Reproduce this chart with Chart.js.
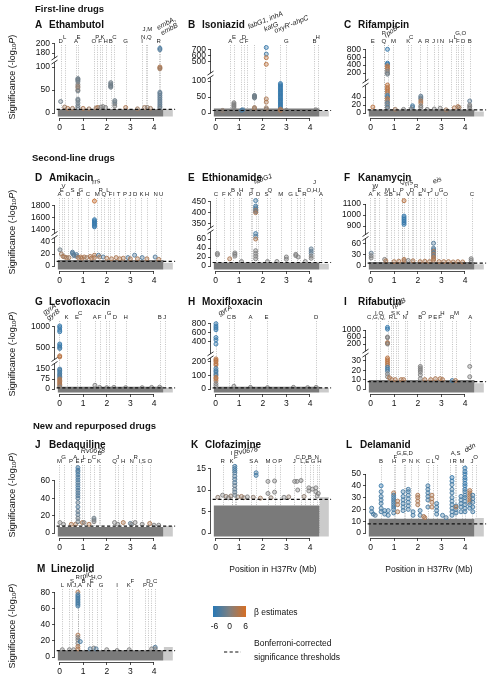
<!DOCTYPE html>
<html>
<head>
<meta charset="utf-8">
<script src="https://cdn.jsdelivr.net/npm/chart.js@4.4.0/dist/chart.umd.min.js"></script>
<style>
  html, body { margin: 0; padding: 0; background: #fff; }
  body { width: 494px; height: 680px; position: relative; overflow: hidden; font-family: 'Liberation Sans', Arial, sans-serif; color: #111; }
  canvas { position: absolute; }
  .t { position: absolute; white-space: nowrap; line-height: 1; }
  .sec { font-weight: bold; font-size: 9.5px; }
  .pt { font-weight: bold; font-size: 10px; }
  .sm { font-size: 8.5px; }
  .yt { font-size: 9px; }
  sub { font-size: 6px; vertical-align: -1px; }
</style>
</head>
<body>
<script>
/* Manhattan plots: significance of genome positions per drug */

// ---- data ----
const thresholdLog10P = 7.8;
const genomeEnd = 4.41;   // Mb, H37Rv chromosome
const extraEnd = 4.8;     // lighter block after the chromosome
const xTicks = [0, 1, 2, 3, 4];

// band of non-significant variants, top in -log10P (dark / light part), panels A..M
const bandDark  = [8, 13.7, 8.5, 10, 7.8, 11, 17, 17, 9.6, 7, 6.4, 12, 8.3];
const bandLight = [8, 6, 4, 5.5, 5, 5, 10, 10, 6, 7.7, 8.4, 12.7, 12.3];

// hits: [position Mb, -log10P, beta]
const ethambutolTicks = [0, 50, 100, 180, 200];
const ethambutolHits = [[0.05,25,-1],[0.22,13,2],[0.35,10,3],[0.55,10,2],
  [0.78,75,-1],[0.78,73,-1],[0.78,71,-1],[0.78,68,-1],[0.78,62,0],[0.78,58,1],[0.78,55,1],[0.78,50,1],[0.78,48,-1],[0.78,30,-1],[0.78,27,-1],[0.78,22,-1],[0.78,16,-1],[0.78,12,-1],
  [1.0,10,3],[1.25,9,2],[1.55,11,2],[1.62,12,3],[1.75,13,0],[1.84,14,0],[1.95,12,0],
  [2.17,66,-1],[2.17,63,-1],[2.17,60,-1],[2.17,58,-1],[2.17,56,-1],
  [2.34,27,-1],[2.34,24,-1],[2.34,20,-1],[2.34,15,0],
  [2.8,12,3],[3.3,9,2],[3.6,12,2],[3.72,12,1],[3.85,10,2],
  [4.25,190,-4],[4.25,187,-3],[4.25,100,3],[4.25,98,3],[4.25,96,2],[4.25,45,-2],[4.25,42,-2],[4.25,38,-2],[4.25,34,-2],[4.25,30,-2],[4.25,26,-2],[4.25,22,-2],[4.25,18,-2],[4.25,14,-2],[4.25,11,-1]];
const ethambutolGenes = [[0.05,'D'],[0.22,'L'],[0.7,'A'],[0.8,'E'],[1.45,'O'],[1.6,'P'],[1.72,'F'],[1.82,'K'],[1.95,'H'],[2.17,'B'],[2.32,'C'],[2.8,'G'],[3.5,'I'],[3.68,'N,Q'],[3.72,'J,M'],[4.2,'R']];
const ethambutolNames = [[4.27,'embA,\nembB']];

const isoniazidTicks = [0, 50, 100, 500, 600, 700];
const isoniazidHits = [[0.3,8,1],[0.78,32,0],[0.78,28,0],[0.78,24,0],[0.78,20,0],[0.78,15,0],[1.1,8,-3],[1.15,10,-4],
  [1.65,55,-1],[1.65,53,-1],[1.65,51,-1],[1.65,49,-1],[1.65,47,-1],[1.65,17,2],[1.65,14,2],
  [2.15,730,-5],[2.15,620,-4],[2.15,560,4],[2.15,450,4],[2.15,44,3],[2.15,34,3],[2.15,16,2],[2.15,12,1],
  [2.75,92,-5],[2.75,88,-5],[2.75,84,-5],[2.75,80,-5],[2.75,76,-5],[2.75,72,-5],[2.75,68,-5],[2.75,64,-5],[2.75,60,-5],[2.75,56,-5],[2.75,52,-5],[2.75,48,-5],[2.75,44,-5],[2.75,40,-5],[2.75,36,-5],[2.75,32,-5],[2.75,28,-5],[2.75,24,-5],[2.75,20,-5],[2.75,16,-5],[2.75,12,3],[2.75,8,3],
  [3.0,8,0],[4.25,10,0]];
const isoniazidGenes = [[0.62,'A'],[0.78,'E'],[1.1,'C'],[1.2,'D'],[1.32,'F'],[3.0,'G'],[4.19,'B'],[4.32,'H']];
const isoniazidNames = [[1.65,'fabG1, inhA'],[2.1,'katG'],[2.72,"oxyR'-ahpC"]];

const rifampicinTicks = [0, 20, 40, 200, 400, 600, 800];
const rifampicinHits = [[0.1,15,4],
  [0.72,800,-5],[0.72,450,-5],[0.72,420,-5],[0.72,380,4],[0.72,340,4],[0.72,300,3],[0.72,250,0],[0.72,200,0],[0.72,170,-1],
  [0.72,70,4],[0.72,64,4],[0.72,60,4],[0.72,55,4],[0.72,50,3],[0.72,44,-4],[0.72,40,-4],[0.72,36,4],[0.72,32,3],[0.72,28,0],[0.72,24,-3],[0.72,20,0],[0.72,15,-3],[0.72,12,0],
  [1.05,9,2],[1.4,9,0],[1.78,18,-4],[1.78,14,-3],[1.72,10,0],
  [2.13,42,-2],[2.13,38,-2],[2.13,35,-1],[2.13,30,3],[2.13,25,3],[2.13,18,0],[2.13,14,0],
  [2.4,9,0],[2.7,10,0],[2.95,12,0],[3.2,8,2],[3.55,13,3],[3.7,16,3],[3.75,14,2],
  [4.2,30,-2],[4.2,20,0],[4.2,16,0],[4.2,12,0]];
const rifampicinGenes = [[0.1,'E'],[0.56,'Q'],[0.56,'P'],[0.97,'M'],[1.6,'K'],[1.72,'C'],[2.1,'A'],[2.4,'R'],[2.67,'J'],[2.85,'I'],[3.02,'N'],[3.42,'H'],[3.6,'L'],[3.7,'F'],[3.82,'G,O'],[3.92,'D'],[4.2,'B']];
const rifampicinNames = [[0.76,'rpoB']];

const amikacinTicks = [0, 20, 40, 1400, 1600, 1800];
const amikacinHits = [[0.02,27,-1],[0.08,20,2],[0.15,16,3],[0.22,15,2],[0.3,14,3],[0.4,14,2],
  [0.55,23,-3],[0.55,21,-3],[0.6,19,-3],[0.62,17,-2],[0.72,19,-3],[0.72,16,-2],[0.8,14,3],[0.9,15,3],[0.95,13,3],[1.05,15,3],[1.15,14,2],[1.3,16,3],[1.35,13,3],
  [1.48,1870,5],[1.48,1560,-5],[1.48,1540,-5],[1.48,1520,-5],[1.48,1500,-5],[1.48,1480,-5],[1.48,1460,-5],[1.48,1440,-5],[1.48,18,3],[1.48,14,3],
  [1.65,18,-3],[1.7,15,3],[1.85,15,-3],[2.0,13,3],[2.2,12,3],[2.4,14,3],[2.55,12,3],[2.7,13,3],[2.9,14,-3],[3.0,12,3],
  [3.18,18,-3],[3.3,12,3],[3.5,14,-3],[3.7,12,3],[4.05,15,-3],[4.2,11,3]];
const amikacinGenes = [[0.0,'A'],[0.1,'E'],[0.17,'V'],[0.35,'O'],[0.55,'S'],[0.8,'B'],[0.9,'G'],[1.2,'C'],[1.6,'M'],[1.74,'R'],[1.88,'Q'],[2.05,'L'],[2.15,'F'],[2.3,'I'],[2.5,'T'],[2.77,'P'],[2.98,'J'],[3.2,'D'],[3.47,'K'],[3.7,'H'],[4.07,'N'],[4.3,'U']];
const amikacinNames = [[1.47,'rrs']];

const ethionamideTicks = [0, 20, 40, 60, 350, 400, 450];
const ethionamideHits = [[0.08,28,0],[0.08,25,0],[0.6,16,3],[0.82,29,0],[0.82,26,0],[0.82,22,0],[1.1,10,0],
  [1.7,455,-4],[1.7,430,-4],[1.7,422,-3],[1.7,415,-3],[1.7,410,3],[1.7,405,-3],[1.7,400,3],[1.7,72,-4],[1.7,66,-3],[1.7,60,3],[1.7,34,0],[1.7,28,0],[1.7,22,0],[1.7,16,0],
  [2.2,10,0],[2.6,10,0],[3.0,20,0],[3.0,15,0],[3.4,26,0],[3.4,23,0],[3.5,20,0],[3.8,10,0],
  [4.05,38,-2],[4.05,33,-2],[4.05,28,-2],[4.05,22,0],[4.05,17,0]];
const ethionamideGenes = [[0.02,'C'],[0.35,'F'],[0.6,'K'],[0.74,'B'],[0.99,'N'],[1.09,'H'],[1.5,'P'],[1.55,'T'],[1.81,'D'],[2.16,'S'],[2.3,'Q'],[2.76,'M'],[3.18,'G'],[3.45,'L'],[3.56,'E'],[3.76,'R'],[4.15,'O,H,I'],[4.19,'J'],[4.47,'A']];
const ethionamideNames = [[1.72,'fabG1']];

const kanamycinTicks = [0, 30, 60, 900, 1000, 1100];
const kanamycinHits = [[0.03,35,-2],[0.03,28,0],[0.03,22,0],[0.6,18,0],[0.65,14,3],[1.0,12,3],[1.2,13,3],
  [1.42,1130,4],[1.42,990,-5],[1.42,975,-5],[1.42,960,-5],[1.42,945,-5],[1.42,930,-5],[1.42,915,-5],[1.42,18,3],[1.42,14,3],
  [1.6,15,0],[1.8,14,3],[2.1,12,3],[2.3,13,3],[2.5,12,3],
  [2.67,62,-3],[2.67,48,-3],[2.67,44,-3],[2.67,40,3],[2.67,36,-3],[2.67,32,3],[2.67,28,-2],[2.67,24,3],[2.67,20,3],[2.67,16,3],
  [2.9,12,3],[3.1,12,3],[3.3,12,3],[3.5,11,3],[3.7,12,3],[3.9,11,3],[4.26,20,0],[4.26,15,0]];
const kanamycinGenes = [[0.0,'A'],[0.15,'F'],[0.2,'W'],[0.35,'K'],[0.66,'S'],[0.72,'M'],[0.86,'B'],[1.0,'L'],[1.18,'H'],[1.32,'P'],[1.35,'Q'],[1.6,'V'],[1.75,'D'],[1.8,'I'],[1.93,'R'],[2.11,'E'],[2.25,'N'],[2.46,'T'],[2.57,'J'],[2.8,'U'],[2.99,'G'],[3.18,'O'],[4.29,'C']];
const kanamycinNames = [[1.42,'rrs'],[2.7,'eis']];

const levofloxacinTicks = [0, 75, 150, 500, 1000];
const levofloxacinHits = [[0.01,1020,-5],[0.01,980,-5],[0.01,920,-5],[0.01,880,-5],[0.01,580,-5],[0.01,540,-5],[0.01,500,-5],[0.01,470,-4],[0.01,290,4],[0.01,265,4],
  [0.01,150,-4],[0.01,140,-4],[0.01,128,-4],[0.01,115,-4],[0.01,105,-4],[0.01,95,-3],[0.01,85,-3],[0.01,75,3],[0.01,65,3],[0.01,55,3],[0.01,45,3],[0.01,35,3],[0.01,25,3],[0.01,15,0],
  [1.5,28,0],[1.7,12,0],[2.0,10,0],[2.3,12,0],[2.8,10,0],[3.5,10,0],[3.9,12,0],[4.24,14,0]];
const levofloxacinGenes = [[0.3,'K'],[0.74,'E'],[0.88,'C'],[1.49,'A'],[1.7,'F'],[1.95,'I'],[2.1,'G'],[2.35,'D'],[2.8,'H'],[4.24,'B'],[4.45,'J']];
const levofloxacinNames = [[0.0,'gyrA\ngyrB']];

const moxifloxacinTicks = [0, 100, 200, 400, 600, 800];
const moxifloxacinHits = [[0.02,790,-5],[0.02,740,-5],[0.02,700,-5],[0.02,660,-5],[0.02,490,-5],[0.02,440,-5],[0.02,350,-5],
  [0.02,220,4],[0.02,210,4],[0.02,200,4],[0.02,185,4],[0.02,175,4],[0.02,150,-4],[0.02,135,-4],[0.02,125,-4],[0.02,110,-4],[0.02,100,-3],[0.02,85,4],[0.02,75,4],[0.02,60,3],[0.02,40,0],[0.02,25,0],
  [0.78,20,0],[1.48,12,0],[2.2,10,0],[3.3,12,0],[3.9,10,0],[4.26,12,0]];
const moxifloxacinGenes = [[0.57,'C'],[0.78,'B'],[1.48,'A'],[2.16,'E'],[4.26,'D']];
const moxifloxacinNames = [[0.02,'gyrA']];

const rifabutinTicks = [0, 10, 20, 30, 200, 600, 1000];
const rifabutinHits = [[0.72,1150,-5],[0.72,1050,-5],[0.72,600,0],[0.72,560,0],[0.72,280,3],[0.72,240,3],[0.72,200,0],
  [0.72,33,4],[0.72,31,4],[0.72,29,4],[0.72,27,4],[0.72,25,3],[0.72,23,-4],[0.72,21,-4],[0.72,19,-3],[0.72,16,0],[0.72,13,0],
  [0.8,12,3],[0.9,10,3],[1.05,10,3],[1.3,10,3],[1.4,10,3],
  [2.11,24,0],[2.11,22,0],[2.11,20,0],[2.11,18,0],[2.11,15,0],[2.11,11,0],
  [2.3,10,3],[2.55,10,3],[2.75,11,3],[2.95,11,3],[3.05,10,3],[3.46,9,-4],[3.6,9,3],[4.2,24,0],[4.2,13,0]];
const rifabutinGenes = [[0.25,'C,G,Q,'],[0.4,'I,O,'],[0.86,'R'],[0.95,'S'],[1.07,'L'],[1.18,'K'],[1.45,'N'],[1.55,'J'],[2.11,'B'],[2.25,'O'],[2.53,'P'],[2.74,'E'],[2.95,'F'],[3.04,'H'],[3.46,'R'],[3.64,'M'],[4.22,'A']];
const rifabutinNames = [[0.74,'rpoB']];

const bedaquilineTicks = [0, 20, 40, 60];
const bedaquilineHits = [[0.02,12,0],[0.17,10,0],[0.5,10,3],[0.68,10,3],
  [0.78,75,-4],[0.78,72,-4],[0.78,70,-3],[0.78,67,-4],[0.78,64,-3],[0.78,61,-4],[0.78,58,-3],[0.78,55,-3],[0.78,52,-4],[0.78,49,-3],[0.78,46,-3],[0.78,43,-3],[0.78,40,-3],[0.78,35,-2],[0.78,30,-3],[0.78,25,-2],[0.78,21,-2],[0.78,17,-1],[0.78,13,-1],
  [0.97,12,3],[1.04,12,0],[1.25,10,3],[1.46,17,-1],[1.46,15,-1],[1.46,13,0],
  [2.33,12,0],[2.47,10,0],[2.7,12,3],[3.0,11,-2],[3.06,10,0],[3.2,12,0],[3.5,10,0],[3.82,11,3],[4.0,9,0],[4.2,9,0]];
const bedaquilineGenes = [[0.0,'M'],[0.17,'G'],[0.49,'P'],[0.7,'A,'],[0.76,'E'],[0.97,'F'],[1.04,'L'],[1.28,'D'],[1.46,'C'],[1.67,'K'],[1.7,'B'],[2.33,'Q'],[2.47,'J'],[2.7,'H'],[3.06,'N'],[3.22,'R'],[3.5,'I,S'],[3.82,'O']];
const bedaquilineNames = [[0.78,'Rv0678']];

const clofazimineTicks = [0, 5, 10, 15];
const clofazimineHits = [[0.1,8.3,1],[0.3,8.8,0],[0.45,8.5,1],[0.55,8.2,0],[0.65,8.6,1],[0.95,8.4,1],[1.1,8.5,2],[1.2,8.2,1],[1.6,8.3,1],[1.9,8.1,2],[2.35,8.2,1],[2.9,8.3,0],[3.1,8.4,1],[3.75,8.5,1],[4.3,8.6,0],
  [0.82,15.5,-4],[0.82,15,-4],[0.82,14.5,-4],[0.82,14,-3],[0.82,13.2,-3],[0.82,12.5,-3],[0.82,11.7,-3],[0.82,11,-2],[0.82,10.2,-2],[0.82,9.5,-2],[0.82,8.8,-1],
  [1.35,8.4,0],[1.72,14,-4],[1.72,13.4,-4],[2.22,12,0],[2.22,9.2,0],[2.5,12.1,0],[2.5,9.5,0],
  [3.35,12,0],[3.45,12,0],[3.62,12.2,0],[3.48,10,0],[3.95,10.5,0],[3.95,9.8,0],[4.1,10.2,0],[4.25,10.5,0],[4.25,9.6,0],[4.35,9.2,0]];
const clofazimineGenes = [[0.3,'R'],[0.68,'K'],[0.68,'I'],[0.86,'F'],[1.51,'S'],[1.72,'A'],[2.22,'M'],[2.5,'O'],[2.74,'P'],[3.33,'J'],[3.61,'C,D'],[3.78,'L,E'],[3.99,'B'],[4.13,'G'],[4.28,'N'],[4.4,'H']];
const clofazimineNames = [[0.82,'Rv0678']];

const delamanidTicks = [0, 10, 20, 30, 40, 50];
const delamanidHits = [[0.05,21,-4],[0.05,18,-4],[0.12,16,-4],[0.2,15,-3],
  [0.45,40,-5],[0.45,35,-4],[0.45,31,-4],[0.45,28,-4],[0.45,25,-4],[0.45,21,-4],[0.45,18,-4],
  [0.6,19,-4],[0.6,16,-4],[0.75,19,-4],[0.75,15,-4],
  [0.98,34,3],[0.98,32,-4],[0.98,30,-4],[0.98,28,-4],[0.98,26,-4],[0.98,24,-4],[0.98,22,-4],[0.98,20,-4],[0.98,17,-4],
  [1.15,27,3],[1.15,24,3],[1.15,18,3],
  [1.38,35,-4],[1.38,31,-4],[1.38,28,-4],[1.38,25,-4],[1.38,22,-4],[1.38,19,-4],
  [1.6,37,-4],[1.6,35,-4],[1.6,32,-4],[1.6,29,-4],[1.6,26,-4],[1.6,23,-4],[1.6,20,-4],
  [1.8,18,-4],[1.8,15,-4],[2.0,32,3],[2.0,30,3],[2.0,27,3],[2.0,24,3],
  [2.1,19,-4],[2.1,15,-4],[2.25,14,3],[2.3,13,3],
  [2.43,40,-4],[2.43,37,-4],[2.43,34,-4],[2.43,31,-4],[2.43,28,-4],[2.43,22,-4],
  [2.6,32,3],[2.6,29,3],[2.6,26,3],[2.6,22,3],
  [2.8,25,-4],[2.8,22,-4],[2.8,19,-4],[2.8,16,-4],[3.05,15,-4],[3.2,13,-3],
  [3.45,47,-5],[3.45,44,-5],[3.45,41,-4],[3.45,37,-4],[3.45,34,-4],[3.45,30,-4],[3.45,27,-4],[3.45,24,-4],[3.45,21,-4],[3.45,18,-4],[3.45,15,-4],
  [3.62,23,-4],[3.62,20,-4],[3.62,22,3],[3.62,17,-4],
  [3.83,31,-4],[3.83,28,-4],[3.83,25,-4],[3.83,22,-4],[3.83,18,-4],
  [4.0,55,-5],[4.0,52,-5],[4.0,50,-5],[4.0,47,-5],[4.0,45,-5],[4.0,42,-5],[4.0,40,-5],[4.0,37,-5],[4.0,35,-4],[4.0,32,-4],[4.0,30,-4],[4.0,27,-4],[4.0,24,-4],[4.0,21,-4],[4.0,18,-4],
  [4.2,36,3],[4.2,34,3],[4.2,32,3],[4.2,30,3],[4.2,28,3],[4.2,26,3],[4.2,24,-4],[4.2,21,-4],
  [4.33,32,-4],[4.33,29,-4],[4.33,26,-4],[4.33,22,-4],[4.33,18,-4]];
const delamanidGenes = [[0.45,'B'],[1.0,'H'],[1.05,'F'],[1.42,'P'],[1.45,'G,E,D'],[1.71,'N'],[2.01,'K'],[2.43,'C'],[2.65,'L'],[2.82,'Q'],[3.38,'I'],[3.56,'R'],[3.6,'A,S'],[3.87,'M'],[4.3,'J'],[4.45,'O']];
const delamanidNames = [[4.0,'ddn']];

const linezolidTicks = [0, 20, 40, 60, 80];
const linezolidHits = [[0.12,9,0],[0.42,9,0],[0.6,9,0],
  [0.78,80,3],[0.78,77,-4],[0.78,75,-4],[0.78,73,-4],[0.78,71,-4],[0.78,69,-4],[0.78,67,-4],[0.78,65,-4],[0.78,63,-4],
  [0.78,27,3],[0.78,24,0],[0.78,21,0],[0.78,17,0],[0.78,13,3],[0.78,10,3],[0.88,19,-4],
  [1.3,10,-3],[1.45,11,0],[1.55,10,-3],[2.0,9,0],[2.44,8,0],[2.95,9,0],[3.9,10,0],[4.05,12,-3],[4.05,10,0]];
const linezolidGenes = [[0.12,'L'],[0.42,'M'],[0.53,'S'],[0.77,'J,A'],[0.77,'R'],[1.02,'B'],[1.26,'N'],[1.37,'E'],[1.57,'H,O'],[1.76,'G'],[2.44,'I'],[2.93,'K'],[3.08,'F'],[3.62,'P'],[3.76,'D'],[3.87,'O'],[4.05,'C']];
const linezolidNames = [[0.8,'rplC']];

// ---- layout ----
const FONT = "'Liberation Sans', Arial, sans-serif";
const MB_PX = 24;
const X_MIN = -0.19, AREA_W = 122, X_MAX = X_MIN + AREA_W / MB_PX;
const Y_MAX = 70, Y_MIN = -5, AREA_H = 75;   // y scale is in pixels above the zero line
const AXIS_W = 32, AXIS_H = 18, PAD_T = 40, PAD_R = 3;
const colX0 = [60, 215.5, 371];
const rowZero = [112.7, 266, 389, 532.7, 656.7];

// low = px per unit below the break; up = [value, px, px per unit] above it
const panels = [
  {key:'A', name:'Ethambutol', col:0, row:0, ticks:ethambutolTicks, hits:ethambutolHits, genes:ethambutolGenes, names:ethambutolNames, low:0.46, up:[180,60,0.47], split:140, brk:52.7, angle:-28, nameOff:[[7.5,16.7]], title:[35,25]},
  {key:'B', name:'Isoniazid', col:1, row:0, ticks:isoniazidTicks, hits:isoniazidHits, genes:isoniazidGenes, names:isoniazidNames, low:0.32, up:[500,51.7,0.06], split:300, brk:37.7, angle:-22, nameOff:[[11,22.7],[6,16.2],[11.7,18.7]], title:[188,25]},
  {key:'C', name:'Rifampicin', col:2, row:0, ticks:rifampicinTicks, hits:rifampicinHits, genes:rifampicinGenes, names:rifampicinNames, low:0.4, up:[200,40,0.0395], split:100, brk:29.7, angle:-35, nameOff:[[2.5,11.2]], title:[344,25]},
  {key:'D', name:'Amikacin', col:0, row:1, ticks:amikacinTicks, hits:amikacinHits, genes:amikacinGenes, names:amikacinNames, low:0.6, up:[1400,36.7,0.06], split:700, brk:30.3, angle:-10, nameOff:[[2,14.3]], title:[35,178]},
  {key:'E', name:'Ethionamide', col:1, row:1, ticks:ethionamideTicks, hits:ethionamideHits, genes:ethionamideGenes, names:ethionamideNames, low:0.45, up:[350,42.3,0.22], split:200, brk:36, angle:-20, nameOff:[[7,17]], title:[188,178]},
  {key:'F', name:'Kanamycin', col:2, row:1, ticks:kanamycinTicks, hits:kanamycinHits, genes:kanamycinGenes, names:kanamycinNames, low:0.367, up:[900,40,0.11], split:500, brk:29.3, angle:-20, nameOff:[[5,13],[3,15.5]], title:[344,178]},
  {key:'G', name:'Levofloxacin', col:0, row:2, ticks:levofloxacinTicks, hits:levofloxacinHits, genes:levofloxacinGenes, names:levofloxacinNames, low:0.133, up:[500,41.7,0.041], split:230, brk:27.3, angle:-35, nameOff:[[-8,7]], title:[35,302]},
  {key:'H', name:'Moxifloxacin', col:1, row:2, ticks:moxifloxacinTicks, hits:moxifloxacinHits, genes:moxifloxacinGenes, names:moxifloxacinNames, low:0.1367, up:[400,47.3,0.046], split:260, brk:33, angle:-30, nameOff:[[9,8.5]], title:[188,302]},
  {key:'I', name:'Rifabutin', col:2, row:2, ticks:rifabutinTicks, hits:rifabutinHits, genes:rifabutinGenes, names:rifabutinNames, low:0.94, up:[200,45,0.0175], split:100, brk:35.7, angle:-30, nameOff:[[11,15.5]], title:[344,302]},
  {key:'J', name:'Bedaquiline', col:0, row:3, ticks:bedaquilineTicks, hits:bedaquilineHits, genes:bedaquilineGenes, names:bedaquilineNames, low:0.87, angle:0, nameOff:[[15,12]], title:[35,445]},
  {key:'K', name:'Clofazimine', col:1, row:3, ticks:clofazimineTicks, hits:clofazimineHits, genes:clofazimineGenes, names:clofazimineNames, low:4.3, angle:-10, nameOff:[[11,11.7]], title:[191,445]},
  {key:'L', name:'Delamanid', col:2, row:3, ticks:delamanidTicks, hits:delamanidHits, genes:delamanidGenes, names:delamanidNames, low:1.18, angle:-30, nameOff:[[5,15.2]], title:[346,445]},
  {key:'M', name:'Linezolid', col:0, row:4, ticks:linezolidTicks, hits:linezolidHits, genes:linezolidGenes, names:linezolidNames, low:0.81, angle:-15, nameOff:[[8,11.2]], title:[37,569]}
];

function toPx(p, v) {
  return (p.up && v >= p.split) ? p.up[1] + (v - p.up[0]) * p.up[2] : v * p.low;
}

const BLUE = [40, 120, 181], GREY = [128, 128, 128], ORANGE = [214, 110, 36];
function betaRGB(b) {
  const t = Math.max(-1, Math.min(1, b / 6));
  const to = t < 0 ? BLUE : ORANGE, f = Math.abs(t);
  return GREY.map((c, k) => Math.round(c + (to[k] - c) * f)).join(',');
}

// dotted gene lines, letters, gene names, axis lines and the axis break
const geneMarks = {
  id: 'geneMarks',
  beforeDatasetsDraw(chart, args, opts) {
    const p = opts.panel, ctx = chart.ctx, area = chart.chartArea, x = chart.scales.x, y = chart.scales.y;
    ctx.save();
    ctx.strokeStyle = '#a9a9a9'; ctx.lineWidth = 0.7; ctx.setLineDash([1, 1.3]);
    p.genes.concat(p.names).forEach(g => {
      const px = Math.round(x.getPixelForValue(g[0])) + 0.5;
      ctx.beginPath(); ctx.moveTo(px, area.top + 2); ctx.lineTo(px, y.getPixelForValue(0)); ctx.stroke();
    });
    ctx.restore();
  },
  afterDraw(chart, args, opts) {
    const p = opts.panel, ctx = chart.ctx, area = chart.chartArea, x = chart.scales.x, y = chart.scales.y;
    ctx.save();
    ctx.strokeStyle = '#222'; ctx.lineWidth = 0.8;
    const ax = Math.round(area.left) - 0.5;
    ctx.beginPath();
    ctx.moveTo(ax, y.getPixelForValue(toPx(p, p.ticks[0])));
    ctx.lineTo(ax, y.getPixelForValue(toPx(p, p.ticks[p.ticks.length - 1])));
    const ay = Math.round(area.bottom) + 0.5;
    ctx.moveTo(x.getPixelForValue(xTicks[0]), ay);
    ctx.lineTo(x.getPixelForValue(xTicks[xTicks.length - 1]), ay);
    ctx.stroke();
    if (p.brk) {
      const by = y.getPixelForValue(p.brk);
      ctx.fillStyle = '#fff'; ctx.fillRect(ax - 1.5, by - 2, 3, 4);
      ctx.lineWidth = 0.9;
      ctx.beginPath();
      ctx.moveTo(ax - 3, by - 0.2); ctx.lineTo(ax + 3, by - 4.2);
      ctx.moveTo(ax - 3, by + 3.8); ctx.lineTo(ax + 3, by - 0.2);
      ctx.stroke();
    }
    // gene letters, staggered only where they would collide
    ctx.fillStyle = '#222'; ctx.font = `6px ${FONT}`; ctx.textAlign = 'center'; ctx.textBaseline = 'middle';
    const placed = [];
    p.genes.slice().sort((a, b) => a[0] - b[0]).forEach(g => {
      const cx = x.getPixelForValue(g[0]);
      const w = ctx.measureText(g[1]).width;
      let lvl = 0;
      const clash = l => placed.some(q => (q.lvl === l && Math.abs(q.cx - cx) < (q.w + w) / 2 + 0.5) ||
                                       (Math.abs(q.lvl - l) === 1 && Math.abs(q.cx - cx) < (q.w + w) / 8));
      while (clash(lvl)) lvl++;
      placed.push({cx, w, lvl});
      ctx.fillText(g[1], cx, area.top - 1.5 - lvl * 4);
    });
    // gene names in italics
    ctx.font = `italic 7px ${FONT}`;
    p.names.forEach((n, i) => {
      const off = p.nameOff[i];
      const lines = n[1].split('\n');
      ctx.save();
      ctx.translate(x.getPixelForValue(n[0]) + off[0], area.top - off[1]);
      ctx.rotate(p.angle * Math.PI / 180);
      lines.forEach((ln, k) => ctx.fillText(ln, 0, (k - (lines.length - 1) / 2) * 6.5));
      ctx.restore();
    });
    ctx.restore();
  }
};

function addText(html, x, y, cls, center, extra) {
  const d = document.createElement('div');
  d.className = 't ' + cls;
  d.innerHTML = html;
  d.style.left = x + 'px';
  d.style.top = y + 'px';
  d.style.transform = (center ? 'translate(-50%,-50%)' : 'translate(0,-50%)') + (extra || '');
  document.body.appendChild(d);
}

panels.forEach((p, i) => {
  const zero = rowZero[p.row], x0 = colX0[p.col];
  const areaTop = Math.round(zero - Y_MAX);
  const areaLeft = Math.round(x0 + X_MIN * MB_PX);
  const cv = document.createElement('canvas');
  cv.width = AXIS_W + AREA_W + PAD_R;
  cv.height = PAD_T + AREA_H + AXIS_H;
  cv.style.left = (areaLeft - AXIS_W) + 'px';
  cv.style.top = (areaTop - PAD_T) + 'px';
  document.body.appendChild(cv);

  const rgb = p.hits.map(h => betaRGB(h[2]));
  const thr = toPx(p, thresholdLog10P);
  new Chart(cv, {
    type: 'line',
    data: {
      datasets: [
        { data: [{x: -0.08, y: toPx(p, bandDark[i])}, {x: genomeEnd, y: toPx(p, bandDark[i])}],
          borderWidth: 0, pointRadius: 0, fill: {value: -3.5}, backgroundColor: '#7a7a7a', order: 4 },
        { data: [{x: genomeEnd, y: toPx(p, bandLight[i])}, {x: extraEnd, y: toPx(p, bandLight[i])}],
          borderWidth: 0, pointRadius: 0, fill: {value: -3.5}, backgroundColor: '#cbcbcb', order: 4 },
        { data: p.hits.map(h => ({x: h[0], y: toPx(p, h[1])})), showLine: false, clip: false,
          pointRadius: 2, pointBorderWidth: 0.9,
          pointBackgroundColor: rgb.map(c => `rgba(${c},0.35)`), pointBorderColor: rgb.map(c => `rgb(${c})`), order: 2 },
        { data: [{x: -0.12, y: thr}, {x: X_MAX, y: thr}], borderColor: '#111', borderWidth: 1.2,
          borderDash: [3.2, 2.4], pointRadius: 0, fill: false, order: 1, clip: false }
      ]
    },
    options: {
      responsive: false, animation: false, events: [],
      layout: {padding: {top: PAD_T, right: PAD_R, left: 0, bottom: 0}},
      plugins: {legend: {display: false}, tooltip: {enabled: false}, geneMarks: {panel: p}},
      scales: {
        x: {
          type: 'linear', min: X_MIN, max: X_MAX,
          afterFit: s => { s.height = AXIS_H; },
          afterBuildTicks: s => { s.ticks = xTicks.map(v => ({value: v})); },
          border: {display: false},
          grid: {display: true, drawOnChartArea: false, drawTicks: true, tickLength: 3, color: '#222', lineWidth: 0.8},
          ticks: {autoSkip: false, maxRotation: 0, padding: 2, color: '#111', font: {family: FONT, size: 8.5}, callback: v => String(v)}
        },
        y: {
          type: 'linear', min: Y_MIN, max: Y_MAX,
          afterFit: s => { s.width = AXIS_W; },
          afterBuildTicks: s => { s.ticks = p.ticks.map(v => ({value: toPx(p, v)})); },
          border: {display: false},
          grid: {display: true, drawOnChartArea: false, drawTicks: true, tickLength: 3, color: '#222', lineWidth: 0.8},
          ticks: {autoSkip: false, padding: 2, color: '#111', font: {family: FONT, size: 8.5}, callback: (v, idx) => String(p.ticks[idx])}
        }
      }
    },
    plugins: [geneMarks]
  });

  addText(p.key, p.title[0], p.title[1], 'pt', false);
  addText(p.name, p.title[0] + 14, p.title[1], 'pt', false);
});

// section headers
addText('First-line drugs', 35, 8.5, 'sec', false);
addText('Second-line drugs', 32, 158, 'sec', false);
addText('New and repurposed drugs', 33, 426, 'sec', false);

// y titles, one per row
[77, 232, 354, 495, 626].forEach(cy => addText('Significance (-log<sub>10</sub><i>P</i>)', 12, cy, 'yt', true, ' rotate(-90deg)'));

// x titles
addText('Position in H37Rv (Mb)', 273, 569, 'sm', true);
addText('Position in H37Rv (Mb)', 429, 569, 'sm', true);

// legend
const grad = document.createElement('div');
Object.assign(grad.style, {position: 'absolute', left: '213px', top: '605.5px', width: '33px', height: '11px',
  background: `linear-gradient(to right, rgb(${BLUE}), rgb(${GREY}), rgb(${ORANGE}))`});
document.body.appendChild(grad);
[['-6', 214.5], ['0', 229.5], ['6', 245.5]].forEach(t => addText(t[0], t[1], 626, 'sm', true));
addText('β estimates', 254, 611.5, 'sm', false);
const dash = document.createElementNS('http://www.w3.org/2000/svg', 'svg');
dash.setAttribute('width', '20'); dash.setAttribute('height', '4');
Object.assign(dash.style, {position: 'absolute', left: '223px', top: '649.7px'});
dash.innerHTML = '<line x1="1" y1="2" x2="18" y2="2" stroke="#111" stroke-width="1.2" stroke-dasharray="3.2,2.4"/>';
document.body.appendChild(dash);
addText('Bonferroni-corrected', 254, 643, 'sm', false);
addText('significance thresholds', 254, 657, 'sm', false);
</script>
</body>
</html>
